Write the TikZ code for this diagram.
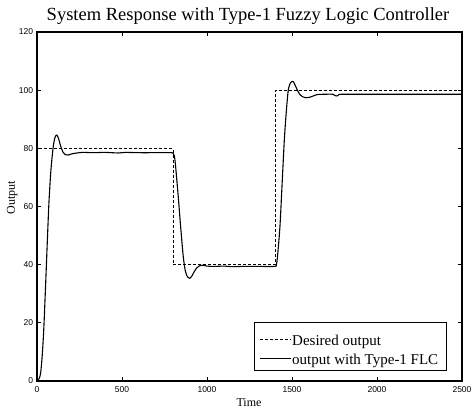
\documentclass[tikz,border=0pt]{standalone}
\usepackage{fontspec}
\setmainfont{Liberation Serif}
\newfontfamily\ticksans{Liberation Sans}
\begin{document}
\begin{tikzpicture}[x=1pt,y=1pt,
  ticklab/.style={font=\ticksans\fontsize{8.5}{10}\selectfont, inner sep=0pt},
  frame/.style={line width=1.3pt},
  tickmark/.style={line width=0.9pt},
  desired/.style={line width=0.8pt, dash pattern=on 3pt off 2pt},
  response/.style={line width=1.1pt, line join=round},
  legtext/.style={font=\fontsize{15}{18}\selectfont, inner sep=0pt, anchor=base west},
  axtext/.style={font=\fontsize{12}{14}\selectfont, inner sep=0pt}]
\useasboundingbox (0,0) rectangle (472,414);
\fill[white] (0,0) rectangle (472,414);
\node[font=\fontsize{18.5}{22}\selectfont, inner sep=0pt, anchor=base] (title) at (248,393) {System Response with Type-1 Fuzzy Logic Controller};
\node[axtext, anchor=base] (xlabel) at (249,7) {Time};
\node[axtext, anchor=base, rotate=90] (ylabel) at (15,216) {Output};
\begin{scope}[shift={(37,33)}, x=0.17pt, y=2.90833pt]
  % desired output
  \draw[desired] (0,0) -- (0,80) -- (800,80) -- (800,40) -- (1400,40) -- (1400,100) -- (2500,100);
  % response
  \draw[response] plot[smooth, tension=0.45] coordinates {
    (0,0) (8,0.3) (15,1.2) (22,3) (31,9) (40,18) (50,32) (60,47) (70,61) (80,71) (88,76.5)
    (96,80.8) (106,83.8) (116,84.6) (126,83.5) (138,81) (152,78.8) (168,77.8) (184,77.7)
    (205,78.1) (235,78.4) (270,78.6) (330,78.5) (400,78.6) (480,78.4) (520,78.6) (600,78.5)
    (700,78.5) (790,78.5) (800,78.3) (808,77.4) (815,74) (830,64) (845,53) (860,43) (872,38)
    (885,35.8) (898,35.3) (910,36) (925,37.6) (940,38.9) (955,39.6) (975,39.8) (1000,39.5)
    (1040,39.4) (1100,39.5) (1150,39.3) (1200,39.4) (1300,39.4) (1398,39.4) (1408,39.9)
    (1415,43) (1429,53) (1442,68) (1455,83) (1467,93) (1478,100) (1490,102.4) (1500,103)
    (1508,102.9) (1518,101.8) (1530,100.2) (1545,98.6) (1560,97.8) (1580,97.4) (1600,97.5)
    (1625,98) (1650,98.5) (1700,98.6) (1740,98.6) (1755,98.1) (1765,98) (1775,98.4)
    (1790,98.6) (1900,98.6) (2500,98.6)};
  % frame
  \draw[frame] (0,0) rectangle (2500,120);
  \foreach \t in {500,1000,1500,2000} {
    \draw[tickmark] (\t,0) -- ++(0,4pt);
    \draw[tickmark] (\t,120) -- ++(0,-4pt);
  }
  \foreach \v in {20,40,60,80,100} {
    \draw[tickmark] (0,\v) -- ++(4pt,0);
    \draw[tickmark] (2500,\v) -- ++(-4pt,0);
  }
  \foreach \t in {0,500,1000,1500,2000,2500}
    \node[ticklab, anchor=north, yshift=-5.5pt] (xt\t) at (\t,0) {\t};
  \foreach \v in {0,20,40,60,80,100,120}
    \node[ticklab, anchor=east, xshift=-3.7pt] (yt\v) at (0,\v) {\v};
\end{scope}
% legend
\draw[line width=0.9pt, fill=white] (254,44) rectangle (446,92);
\coordinate (l1a) at (260,75);
\coordinate (l1b) at (291,75);
\coordinate (l2a) at (260,55.7);
\coordinate (l2b) at (291,55.7);
\draw[desired] (l1a) -- (l1b);
\draw[response] (l2a) -- (l2b);
\node[legtext] (leg1) at (292,68) {Desired output};
\node[legtext] (leg2) at (292,49) {output with Type-1 FLC};
\end{tikzpicture}
\end{document}
